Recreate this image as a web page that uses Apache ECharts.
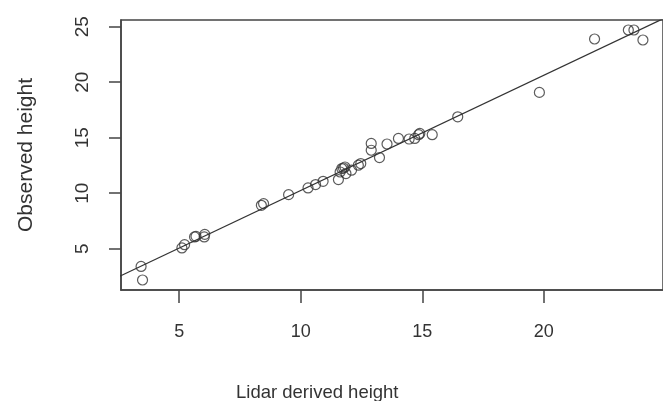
<!DOCTYPE html>
<html>
<head>
<meta charset="utf-8">
<script src="https://cdn.jsdelivr.net/npm/echarts@6/dist/echarts.min.js"></script>
<style>
html,body{margin:0;padding:0;background:#fff;}
#chart{width:663px;height:401px;}
</style>
</head>
<body>
<div id="chart"></div>
<script>
// Lidar derived height (x) vs observed height (y)
const lidarHeight = [3.43, 3.49, 5.11, 5.22, 5.63, 5.69, 6.03, 6.05, 8.38, 8.47, 9.50, 10.30, 10.61, 10.92,
  11.55, 11.62, 11.76, 11.69, 11.82, 11.86, 12.09, 12.37, 12.47, 12.90, 12.90, 13.24, 13.55, 14.02,
  14.46, 14.69, 14.85, 14.90, 15.41, 16.46, 19.82, 22.09, 23.48, 23.71, 24.08];
const observedHeight = [3.40, 2.18, 5.07, 5.36, 6.06, 6.11, 6.06, 6.29, 8.91, 9.06, 9.87, 10.47, 10.78, 11.07,
  11.23, 11.91, 12.27, 12.22, 12.36, 11.77, 12.07, 12.52, 12.67, 13.87, 14.48, 13.21, 14.43, 14.93,
  14.88, 14.93, 15.27, 15.38, 15.27, 16.88, 19.08, 23.89, 24.70, 24.70, 23.80];
const xTicks = [5, 10, 15, 20];
const yTicks = [5, 10, 15, 20, 25];
const xLabel = 'Lidar derived height';
const yLabel = 'Observed height';

// R-style 4% axis extension
function ext(a){ const mn=Math.min(...a), mx=Math.max(...a), d=(mx-mn)*0.04; return [mn-d, mx+d]; }
const xr = ext(lidarHeight), yr = ext(observedHeight);

// least-squares fit (abline(lm(y~x)))
const n = lidarHeight.length;
const mx = lidarHeight.reduce((s,v)=>s+v,0)/n, my = observedHeight.reduce((s,v)=>s+v,0)/n;
let sxy=0, sxx=0;
for (let i=0;i<n;i++){ sxy+=(lidarHeight[i]-mx)*(observedHeight[i]-my); sxx+=(lidarHeight[i]-mx)**2; }
const slope = sxy/sxx, intercept = my - slope*mx;
const fitLine = [[xr[0]-1, intercept+slope*(xr[0]-1)], [xr[1]+1, intercept+slope*(xr[1]+1)]];

const pts = lidarHeight.map((x,i)=>[x, observedHeight[i]]);
const font = "'Liberation Sans', Arial, sans-serif";
const axisCol = '#444';

const chart = echarts.init(document.getElementById('chart'), null, {renderer:'canvas'});
chart.setOption({
  animation:false,
  backgroundColor:'#fff',
  title:{
    text:xLabel, left:231, top:378,
    textStyle:{fontFamily:font, fontSize:18.5, fontWeight:'normal', color:'#333'}
  },
  grid:{left:121, right:-8, top:20, bottom:111, show:true, borderColor:axisCol, borderWidth:1.5},
  xAxis:{
    type:'value', min:xr[0], max:xr[1],
    axisLine:{show:true, lineStyle:{color:axisCol, width:1.5}},
    axisTick:{show:true, customValues:xTicks, length:13, lineStyle:{color:axisCol, width:1.5}},
    axisLabel:{customValues:xTicks, margin:33, fontFamily:font, fontSize:18, color:'#333'},
    splitLine:{show:false}
  },
  yAxis:{
    type:'value', min:yr[0], max:yr[1],
    name:yLabel, nameLocation:'middle', nameGap:84, nameRotate:90,
    nameTextStyle:{fontFamily:font, fontSize:21, color:'#333'},
    axisLine:{show:true, lineStyle:{color:axisCol, width:1.5}},
    axisTick:{show:true, customValues:yTicks, length:12, lineStyle:{color:axisCol, width:1.5}},
    axisLabel:{customValues:yTicks, rotate:90, margin:29, fontFamily:font, fontSize:19, color:'#333'},
    splitLine:{show:false}
  },
  series:[
    {type:'line', data:fitLine, showSymbol:false, symbol:'none', clip:true,
     lineStyle:{color:'#333', width:1.2}, z:1},
    {type:'scatter', data:pts, symbol:'circle', symbolSize:10,
     itemStyle:{color:'rgba(0,0,0,0)', borderColor:'#333', borderWidth:1.2}, z:2}
  ]
});
</script>
</body>
</html>
